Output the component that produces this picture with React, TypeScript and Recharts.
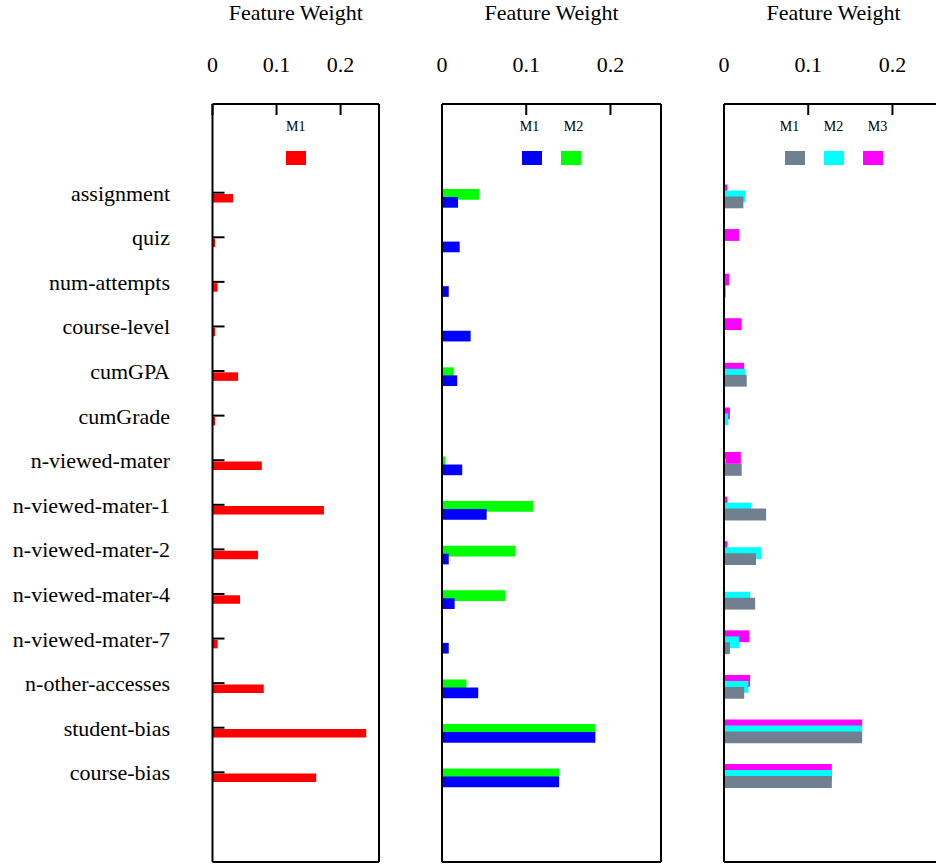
import React from 'react';
import { BarChart, Bar, XAxis, YAxis, Legend, ReferenceLine } from 'recharts';

const categories = [
  'assignment', 'quiz', 'num-attempts', 'course-level', 'cumGPA', 'cumGrade',
  'n-viewed-mater', 'n-viewed-mater-1', 'n-viewed-mater-2', 'n-viewed-mater-4',
  'n-viewed-mater-7', 'n-other-accesses', 'student-bias', 'course-bias',
];
const tickValues = [0, 0.1, 0.2];
const XMAX = 0.26;

// Panel 1
const p1M1 = [0.032, 0.004, 0.008, 0.004, 0.040, 0.004, 0.077, 0.174, 0.071, 0.043, 0.008, 0.080, 0.240, 0.162];
// Panel 2
const p2M1 = [0.019, 0.021, 0.008, 0.034, 0.018, 0, 0.024, 0.053, 0.008, 0.015, 0.008, 0.043, 0.182, 0.139];
const p2M2 = [0.044, 0, 0, 0, 0.014, 0, 0.004, 0.108, 0.087, 0.075, 0.001, 0.029, 0.182, 0.139];
// Panel 3
const p3M1 = [0.023, 0, 0.002, 0, 0.027, 0, 0.021, 0.050, 0.038, 0.037, 0.007, 0.024, 0.164, 0.128];
const p3M2 = [0.025, 0, 0, 0, 0.025, 0.005, 0.002, 0.032, 0.044, 0.031, 0.018, 0.029, 0.164, 0.128];
const p3M3 = [0.004, 0.018, 0.006, 0.021, 0.024, 0.007, 0.020, 0.004, 0.004, 0, 0.030, 0.031, 0.164, 0.128];

const rows1 = categories.map((feature, i) => ({ feature, M1: p1M1[i] }));
const rows2 = categories.map((feature, i) => ({ feature, M1: p2M1[i], M2: p2M2[i] }));
const rows3 = categories.map((feature, i) => ({ feature, M1: p3M1[i], M2: p3M2[i], M3: p3M3[i] }));

const FONT = '"Liberation Serif", "Times New Roman", Times, serif';
const CHART_H = 865;
const PLOT_TOP = 104;
const PLOT_BOTTOM_GAP = 3;
const BAND_SPAN = 624.2;
const TOP_TICK_MARGIN = 32;

type Series = { key: string; color: string };

const TopTick = (props: any) => {
  const { x, y, payload } = props;
  return (
    <g>
      <text x={x} y={y} textAnchor="middle" fontFamily={FONT} fontSize={22} fill="#000">
        {String(payload.value)}
      </text>
      <line x1={x} x2={x} y1={y + TOP_TICK_MARGIN} y2={y + TOP_TICK_MARGIN + 11} stroke="#000" strokeWidth={2} />
    </g>
  );
};

const BottomTick = (props: any) => {
  const { x, y } = props;
  return <line x1={x} x2={x} y1={y} y2={y - 11} stroke="#000" strokeWidth={2} />;
};

const Y_TICK_MARGIN = 42.5;
const makeYTick = (dy: number) => (props: any) => {
  const { x, y, payload } = props;
  const ty = y + dy;
  return (
    <g>
      <line x1={x + Y_TICK_MARGIN} x2={x + Y_TICK_MARGIN + 12} y1={ty} y2={ty} stroke="#000" strokeWidth={2} />
      <text x={x} y={ty + 8} textAnchor="end" fontFamily={FONT} fontSize={22} fill="#000">
        {payload.value}
      </text>
    </g>
  );
};

const makeLegend = (plotCenter: number, width: number) => (props: any) => {
  const items = [...(props.payload || [])].sort((a: any, b: any) =>
    String(a.value).localeCompare(String(b.value))
  );
  const n = items.length;
  const swStart = plotCenter - (n * 20 + (n - 1) * 19) / 2;
  return (
    <div style={{ position: 'relative', width, height: 0 }}>
      {items.map((it: any, i: number) => (
        <React.Fragment key={String(it.value)}>
          <span
            style={{
              position: 'absolute',
              left: plotCenter + (i - (n - 1) / 2) * 44 - 20,
              width: 40,
              top: 119,
              textAlign: 'center',
              fontFamily: FONT,
              fontSize: 14,
              lineHeight: '16px',
              color: '#000',
            }}
          >
            {it.value}
          </span>
          <div
            style={{
              position: 'absolute',
              left: swStart + i * 39,
              top: 151,
              width: 20,
              height: 14,
              background: it.color,
            }}
          />
        </React.Fragment>
      ))}
    </div>
  );
};

type PanelProps = {
  data: any[];
  series: Series[];
  pageLeft: number;
  yAxisWidth: number;
  plotWidth: number;
  padTop: number;
  barSize: number;
  barGap: number;
  showLabels: boolean;
  yTickDy: number;
};

const Panel = ({ data, series, pageLeft, yAxisWidth, plotWidth, padTop, barSize, barGap, showLabels, yTickDy }: PanelProps) => {
  const marginRight = 10;
  const width = yAxisWidth + plotWidth + marginRight;
  const padBottom = CHART_H - PLOT_BOTTOM_GAP - PLOT_TOP - BAND_SPAN - padTop;
  const plotCenter = yAxisWidth + plotWidth / 2;
  return (
    <div style={{ position: 'absolute', left: pageLeft, top: 0 }}>
      <BarChart
        width={width}
        height={CHART_H}
        data={data}
        layout="vertical"
        barGap={barGap}
        margin={{ top: 0, right: marginRight, bottom: 0, left: 0 }}
        style={{ fontFamily: FONT }}
      >
        <XAxis
          xAxisId="t"
          orientation="top"
          type="number"
          domain={[0, XMAX]}
          ticks={tickValues}
          height={PLOT_TOP}
          tickSize={0}
          tickMargin={TOP_TICK_MARGIN}
          tickLine={false}
          axisLine={{ stroke: '#000', strokeWidth: 2 }}
          tick={(p: any) => <TopTick {...p} />}
          label={{ value: 'Feature Weight', position: 'insideTop', offset: 4, fontSize: 22, fontFamily: FONT, fill: '#000' }}
        />
        <XAxis
          xAxisId="b"
          orientation="bottom"
          type="number"
          domain={[0, XMAX]}
          ticks={tickValues}
          height={PLOT_BOTTOM_GAP}
          tickSize={0}
          tickMargin={0}
          tickLine={false}
          axisLine={{ stroke: '#000', strokeWidth: 2 }}
          tick={(p: any) => <BottomTick {...p} />}
        />
        <YAxis
          yAxisId="l"
          type="category"
          dataKey="feature"
          width={yAxisWidth}
          interval={0}
          padding={{ top: padTop, bottom: padBottom }}
          tickSize={0}
          tickMargin={Y_TICK_MARGIN}
          tickLine={false}
          axisLine={{ stroke: '#000', strokeWidth: 2 }}
          tick={showLabels ? makeYTick(yTickDy) : false}
        />
        <ReferenceLine xAxisId="t" yAxisId="l" x={XMAX} stroke="#000" strokeWidth={2} />
        <Legend
          layout="horizontal"
          verticalAlign="middle"
          align="center"
          wrapperStyle={{ left: 0, top: 0, width, height: 0 }}
          content={makeLegend(plotCenter, width)}
        />
        {series.map((s) => (
          <Bar
            key={s.key}
            xAxisId="t"
            yAxisId="l"
            dataKey={s.key}
            name={s.key}
            fill={s.color}
            barSize={barSize}
            isAnimationActive={false}
          />
        ))}
      </BarChart>
    </div>
  );
};

export default function App() {
  return (
    <div
      style={{
        position: 'absolute',
        left: 0,
        top: 0,
        width: 936,
        height: 865,
        overflow: 'hidden',
        background: '#fff',
      }}
    >
      <Panel
        data={rows1}
        series={[{ key: 'M1', color: '#ff0000' }]}
        pageLeft={0}
        yAxisWidth={212.5}
        plotWidth={166.5}
        padTop={72}
        barSize={8.5}
        barGap={0}
        showLabels={true}
        yTickDy={-5.6}
      />
      <Panel
        data={rows2}
        series={[
          { key: 'M2', color: '#00ff00' },
          { key: 'M1', color: '#0000ff' },
        ]}
        pageLeft={432}
        yAxisWidth={10}
        plotWidth={219}
        padTop={72}
        barSize={10.7}
        barGap={-2.7}
        showLabels={false}
        yTickDy={0}
      />
      <Panel
        data={rows3}
        series={[
          { key: 'M3', color: '#ff00ff' },
          { key: 'M2', color: '#00ffff' },
          { key: 'M1', color: '#708090' },
        ]}
        pageLeft={714}
        yAxisWidth={10}
        plotWidth={219}
        padTop={70.5}
        barSize={11.8}
        barGap={-5.8}
        showLabels={false}
        yTickDy={0}
      />
    </div>
  );
}
